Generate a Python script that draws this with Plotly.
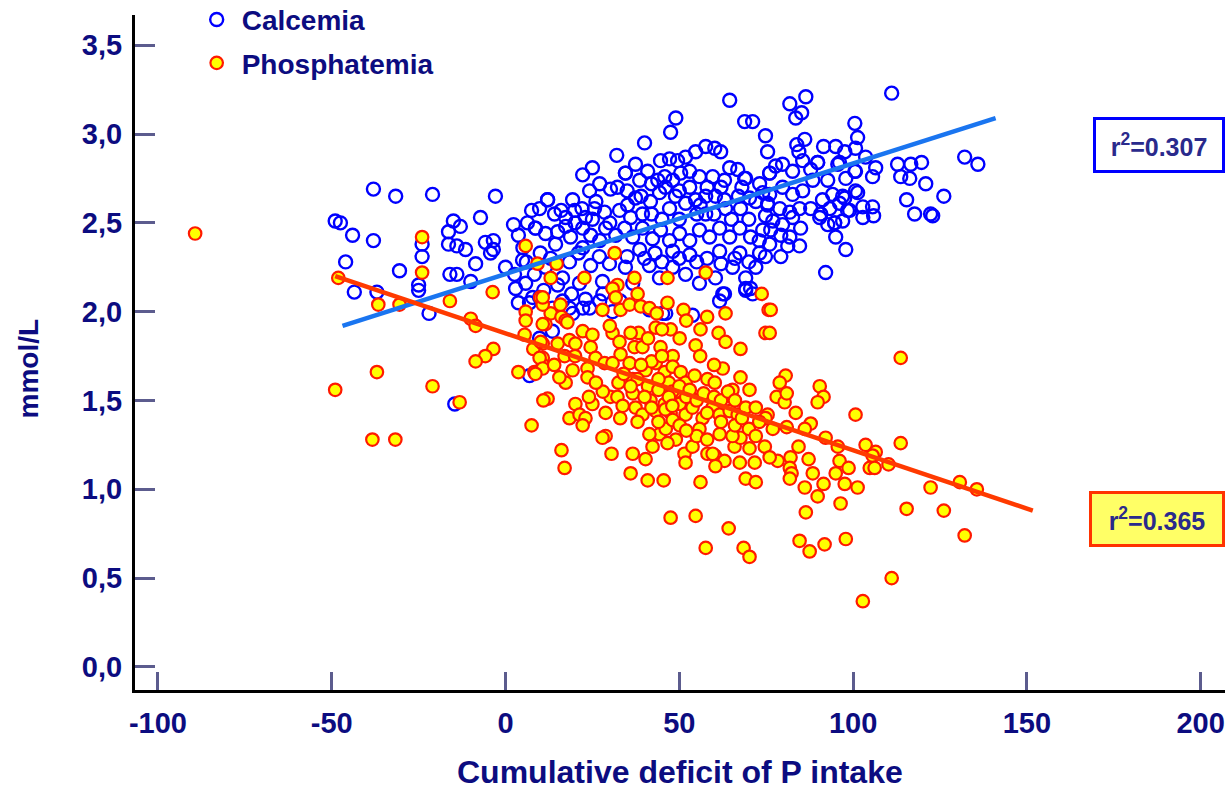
import plotly.graph_objects as go

# ---------------- data ----------------
calc_points = [
    (-49, 2.51), (-47.5, 2.50), (-46, 2.28), (-44, 2.43), (-43.5, 2.11), (-38, 2.69), (-38, 2.40),
    (-37, 2.11), (-31.6, 2.65), (-30.5, 2.23), (-24, 2.38), (-24, 2.31), (-25, 2.15), (-25, 2.12),
    (-21, 2.66), (-22, 1.99), (-16.4, 2.45), (-15, 2.51), (-13, 2.48), (-16.4, 2.38), (-14, 2.37),
    (-11.5, 2.35), (-16, 2.21), (-14, 2.21), (-10, 2.17), (-14.6, 1.48), (-7.2, 2.53), (-8.6, 2.27),
    (-5.8, 2.39), (-3.5, 2.40), (-3.5, 2.35), (-4.3, 2.33), (-2.9, 2.65), (0, 2.25),
    (2.3, 2.49), (3.7, 2.43), (4.9, 2.29), (2.6, 2.21), (7.5, 2.57), (6.3, 2.50), (8.6, 2.47),
    (2.9, 2.13), (5.8, 2.16), (7.8, 2.08), (3.7, 2.05), (6.9, 2.05), (6.9, 1.64), (9.8, 1.85),
    (64.5, 3.19), (49, 3.09), (47.5, 3.01), (68.8, 3.07), (71.1, 3.07), (74.8, 2.99), (40, 2.95),
    (75.4, 2.90), (32, 2.88), (22.2, 2.77), (25, 2.81), (12.1, 2.63), (19.3, 2.63),
    (44.6, 2.85), (47.2, 2.86), (49.5, 2.85), (51.8, 2.87), (54.7, 2.90), (57.6, 2.93), (60.2, 2.92),
    (61.9, 2.90), (37.4, 2.83), (40.9, 2.79), (34.5, 2.78), (64.5, 2.81), (66.8, 2.80), (69.1, 2.75),
    (73.1, 2.72),
    (111.1, 3.23), (81.8, 3.17), (86.4, 3.21), (85.2, 3.12), (83.5, 3.09), (100.5, 3.06), (86.1, 2.97),
    (83.8, 2.94), (84.4, 2.90), (91.5, 2.93), (95, 2.93), (97.6, 2.90), (100.7, 2.92), (101.3, 2.98),
    (103.6, 2.87), (89.8, 2.84), (96.1, 2.84), (100.5, 2.79), (106.5, 2.81), (105.6, 2.76), (112.8, 2.83),
    (116.6, 2.83), (119.7, 2.84), (113.7, 2.76), (116.3, 2.75), (120.9, 2.72), (132.1, 2.87), (135.9, 2.83),
    (115.4, 2.63), (126.1, 2.65), (117.7, 2.55), (122.3, 2.55), (122.9, 2.54), (101.3, 2.67), (102.8, 2.59),
    (105.6, 2.59), (102.8, 2.53), (105.9, 2.54), (97.6, 2.64), (99, 2.57), (97, 2.51), (94.7, 2.50),
    (95, 2.42), (97.9, 2.35), (92.1, 2.22), (84.6, 2.37), (81.2, 2.37), (79.2, 2.31), (74.8, 2.31),
    (30.2, 2.69), (32.2, 2.70), (34.5, 2.78), (43.8, 2.74), (45.8, 2.76), (48.1, 2.74), (50.4, 2.78),
    (53.0, 2.79), (55.8, 2.76), (59.6, 2.76), (63.0, 2.74), (68.8, 2.75), (76.0, 2.78), (24.2, 2.68),
    (27.1, 2.72), (38.6, 2.74),
    (9.8, 2.58), (12.1, 2.63), (14.1, 2.55), (17.3, 2.53), (19.9, 2.57), (23.0, 2.53), (25.6, 2.58),
    (28.5, 2.56), (32.8, 2.57), (35.1, 2.60), (37.4, 2.64), (39.4, 2.55), (41.7, 2.62), (44.3, 2.67),
    (47.2, 2.58), (48.9, 2.65), (51.8, 2.61), (54.7, 2.63), (57.6, 2.65), (60.4, 2.65), (57.6, 2.55),
    (63.3, 2.58), (67.6, 2.58), (70.2, 2.64), (74.0, 2.67), (75.4, 2.60), (74.8, 2.54),
    (8.6, 2.47), (11.5, 2.44), (14.4, 2.38), (17.3, 2.48), (18.7, 2.42), (22.2, 2.47), (24.5, 2.43),
    (27.1, 2.40), (28.8, 2.47), (31.7, 2.43), (34.3, 2.47), (36.6, 2.42), (39.4, 2.47), (42.3, 2.41),
    (44.6, 2.46), (47.2, 2.40), (50.1, 2.44), (53.0, 2.40), (55.8, 2.46), (58.7, 2.42), (61.6, 2.47),
    (64.5, 2.42), (67.4, 2.47), (70.5, 2.42), (74.0, 2.46), (76.0, 2.38), (22.2, 2.36), (38.6, 2.35),
    (48.1, 2.34), (61.6, 2.34), (67.4, 2.33), (73.1, 2.33),
    (8.3, 2.21), (11.5, 2.25), (16.4, 2.19), (18.4, 2.28), (21.3, 2.16), (24.5, 2.26), (27.9, 2.17),
    (29.9, 2.27), (34.5, 2.25), (36.6, 2.16), (41.4, 2.26), (44.3, 2.19), (48.1, 2.25), (51.8, 2.21),
    (55.8, 2.16), (60.4, 2.19), (65.3, 2.25), (69.1, 2.19), (72.0, 2.25), (62.5, 2.10), (69.1, 2.13),
    (71.1, 2.10),
    (9.8, 2.08), (13.5, 2.02), (16.4, 2.06), (19.3, 1.99), (24.2, 2.02), (27.1, 2.06), (41.4, 2.01),
    (46.1, 1.99), (53.8, 1.98), (61.6, 2.06), (63.0, 2.10), (69.1, 2.12), (70.5, 2.13),
    (13.5, 1.89), (18.4, 2.02), (22.2, 2.02), (30.8, 2.00), (45.2, 1.99),
    (76.0, 2.78), (77.7, 2.82), (79.7, 2.83), (82.6, 2.79), (85.5, 2.85), (87.8, 2.80), (89.8, 2.84),
    (92.7, 2.74), (95.6, 2.83), (97.9, 2.75), (100.7, 2.79), (76.0, 2.66), (79.7, 2.70), (82.6, 2.66),
    (85.5, 2.68), (88.4, 2.74), (91.2, 2.63), (94.1, 2.66), (97.0, 2.65), (100.7, 2.68), (75.4, 2.61),
    (78.9, 2.58), (81.8, 2.56), (84.6, 2.58), (87.8, 2.58), (90.7, 2.55), (93.3, 2.58), (96.1, 2.61),
    (98.4, 2.57), (76.9, 2.51), (79.7, 2.49), (82.6, 2.53), (84.9, 2.47), (90.4, 2.53), (92.7, 2.49),
    (94.7, 2.50), (76.3, 2.46), (79.2, 2.43), (81.8, 2.42),
    (5, 2.36), (10, 2.33), (13, 2.30), (15, 2.45), (20, 2.50), (21, 2.33), (25, 2.52), (27, 2.31),
    (6, 2.28), (11, 2.12), (15, 2.15), (19, 2.10), (23, 2.07), (28, 2.10), (33, 2.06), (35, 2.31),
    (40, 2.30), (43, 2.33), (45, 2.28), (50, 2.30), (53, 2.32), (55, 2.28), (58, 2.30), (62, 2.27),
    (66, 2.30), (70, 2.28), (73, 2.40), (45, 2.52), (50, 2.52), (55, 2.55), (60, 2.55), (65, 2.52),
    (70, 2.52), (42, 2.55), (36, 2.53), (30, 2.50), (26, 2.62), (22, 2.58), (16, 2.57), (53, 2.70),
    (58, 2.70), (62, 2.70), (68, 2.70), (72, 2.62), (46, 2.70), (42, 2.72), (35, 2.68), (39, 2.65),
    (50, 2.68), (56, 2.60), (63, 2.63), (67, 2.65),
]

phos_points = [
    (-89.3, 2.44), (-48.1, 2.19), (-49, 1.56), (-36.6, 2.04), (-30.5, 2.04), (-16, 2.06), (-24, 2.42),
    (-24, 2.22), (-10, 1.96), (-8.6, 1.92), (5.8, 2.37), (-3.7, 2.11), (9.2, 2.27), (10, 2.08),
    (5.8, 2.00), (-3.5, 1.79), (-5.8, 1.75), (-8.6, 1.72), (-37, 1.66), (-21, 1.58), (-13.2, 1.49),
    (-38.3, 1.28), (-31.7, 1.28), (7.5, 1.36), (5.8, 1.95), (5.5, 1.87), (3.7, 1.66), (8.3, 1.66),
    (8.0, 1.79),
    (12.1, 1.51), (16.1, 1.22), (17, 1.12), (28.8, 1.30), (30.5, 1.20), (36.6, 1.20), (36, 1.09),
    (40.9, 1.05), (45.5, 1.05), (56.1, 1.04), (47.5, 0.84), (54.7, 0.85), (57.6, 0.67), (64.2, 0.78),
    (68.5, 0.67), (70.2, 0.62), (56.1, 1.90), (61.3, 1.88), (63.3, 1.83), (67.6, 1.79), (54.7, 1.81),
    (74.8, 1.88), (75.7, 2.01), (63.3, 1.99), (75.4, 1.42), (67.6, 1.63), (70.2, 1.56), (51.2, 2.01),
    (46.6, 2.05), (27.9, 2.01), (33.1, 2.01), (13, 1.99), (16.1, 1.97), (17.3, 1.95), (22.2, 1.89),
    (25, 1.87),
    (76.3, 2.01), (76.0, 1.88), (113.7, 1.74), (80.6, 1.64), (78.9, 1.60), (78.0, 1.52), (80.3, 1.49),
    (80.9, 1.54), (90.4, 1.58), (91.5, 1.52), (89.8, 1.49), (83.5, 1.43), (100.7, 1.42), (87.8, 1.37),
    (86.1, 1.34), (80.9, 1.35), (76.9, 1.34), (92.1, 1.29), (95.6, 1.24), (103.6, 1.25), (106.5, 1.21),
    (113.7, 1.26), (84.3, 1.24), (82.0, 1.18), (87.2, 1.17), (78.3, 1.16), (81.8, 1.12), (82.3, 1.09),
    (81.8, 1.06), (88.4, 1.09), (96.1, 1.16), (98.7, 1.12), (95.0, 1.09), (97.6, 1.03), (101.3, 1.01),
    (105.6, 1.19), (104.8, 1.12), (106.2, 1.12), (110.2, 1.14), (86.1, 1.01), (89.8, 0.96), (91.5, 1.03),
    (96.4, 0.92), (86.4, 0.87), (122.3, 1.01), (130.7, 1.04), (135.6, 1.00), (115.4, 0.89), (126.1, 0.88),
    (132.1, 0.74), (84.6, 0.71), (87.5, 0.65), (91.8, 0.69), (97.9, 0.72), (111.1, 0.50), (102.8, 0.37),
    (10.7, 2.04), (15.8, 2.04), (35.7, 2.04), (38.9, 2.03), (41.4, 2.02), (43.5, 1.99),
    (11.5, 1.93), (17.8, 1.94), (30.8, 1.88), (32.8, 1.83), (38.3, 1.88), (43.2, 1.91), (47.5, 1.90),
    (50.1, 1.85), (10.7, 1.82), (15.0, 1.82), (18.4, 1.84), (20.1, 1.82), (24.5, 1.80), (33.1, 1.76),
    (37.1, 1.80), (39.4, 1.80), (44.6, 1.80), (48.1, 1.75),
    (10.7, 1.74), (17.0, 1.75), (19.3, 1.67), (17.3, 1.60), (23.6, 1.68), (25.9, 1.74), (23.6, 1.63),
    (28.5, 1.71), (30.8, 1.71), (32.5, 1.60), (35.7, 1.71), (36.6, 1.62), (40.3, 1.67), (43.2, 1.71),
    (45.8, 1.66), (48.1, 1.69), (50.4, 1.66), (51.8, 1.60), (54.4, 1.64), (58.1, 1.62), (62.5, 1.68),
    (60.2, 1.60), (65.3, 1.56), (15.5, 1.63),
    (20.1, 1.48), (18.4, 1.40), (21.3, 1.42), (23.0, 1.40), (25.0, 1.48), (28.8, 1.43), (30.2, 1.52),
    (32.2, 1.52), (33.7, 1.47), (36.6, 1.54), (37.4, 1.46), (39.4, 1.42), (41.7, 1.50), (43.2, 1.44),
    (45.8, 1.48), (47.5, 1.43), (50.1, 1.48), (51.8, 1.42), (53.8, 1.46), (56.7, 1.40), (59.6, 1.46),
    (61.6, 1.42), (64.5, 1.44), (66.8, 1.42), (69.1, 1.46), (72.0, 1.46), (74.8, 1.40), (10.7, 1.70),
    (22.2, 1.36),
    (27.9, 1.29), (40.3, 1.17), (42.3, 1.24), (44.3, 1.31), (46.1, 1.34), (49.0, 1.28), (51.5, 1.20),
    (53.8, 1.24), (58.1, 1.20), (60.2, 1.19), (63.0, 1.16), (65.9, 1.24), (67.6, 1.29), (70.2, 1.23),
    (71.7, 1.15), (74.6, 1.24), (76.0, 1.18), (41.4, 1.31), (46.6, 1.26), (55.8, 1.34), (61.6, 1.31),
    (65.3, 1.30), (48.1, 1.39), (50.1, 1.36),
    (51.8, 1.15), (60.4, 1.13), (67.4, 1.15), (69.1, 1.06), (72.0, 1.04), (59.6, 1.20),
    (10.7, 1.93), (10.1, 1.83), (9.8, 1.74), (10.7, 1.68), (8.6, 1.65), (10.9, 1.50),
    (31.4, 2.33), (14.7, 2.27), (22.7, 2.19), (13, 2.19), (37.1, 2.19), (46.6, 2.19), (57.6, 2.22),
    (32.2, 2.15), (30.8, 2.13), (10.7, 2.08), (38, 2.10), (31.7, 2.08), (73.7, 2.10),
    (38, 1.62), (41, 1.58), (44, 1.56), (47, 1.60), (49, 1.55), (52, 1.52), (55, 1.50), (42, 1.72),
    (45, 1.75), (48, 1.55), (50, 1.58), (44, 1.62), (39, 1.70), (47, 1.52), (53, 1.56), (57, 1.54),
    (60, 1.52), (62, 1.50), (64, 1.55), (36, 1.58), (34, 1.65), (40, 1.52), (46, 1.45), (58, 1.43),
    (62, 1.38), (66, 1.36), (70, 1.34), (72, 1.30), (55, 1.30), (52, 1.33), (44, 1.38), (38, 1.38),
    (33, 1.40), (28, 1.55), (26, 1.60), (20, 1.75), (14, 1.70), (24, 1.52), (56, 1.75), (60, 1.70),
    (66, 1.50), (68, 1.40), (73, 1.38), (58, 1.28), (48, 1.47), (42, 1.46), (45, 1.90), (41, 1.85),
    (36, 1.88), (30, 1.92), (52, 1.95), (58, 1.97),
]

calc_x = [p[0] for p in calc_points]
calc_y = [p[1] for p in calc_points]
phos_x = [p[0] for p in phos_points]
phos_y = [p[1] for p in phos_points]

# regression lines (end points)
calc_fit_x = [-46.9, 141.0]
calc_fit_y = [1.92, 3.09]
phos_fit_x = [-49.0, 151.7]
phos_fit_y = [2.20, 0.88]

x_tick_vals = [-100, -50, 0, 50, 100, 150, 200]
x_tick_text = ["-100", "-50", "0", "50", "100", "150", "200"]
y_tick_vals = [0.0, 0.5, 1.0, 1.5, 2.0, 2.5, 3.0, 3.5]
y_tick_text = ["0,0", "0,5", "1,0", "1,5", "2,0", "2,5", "3,0", "3,5"]

series_names = ["Calcemia", "Phosphatemia"]
r2_labels = ["r<sup>2</sup>=0.307", "r<sup>2</sup>=0.365"]

# ---------------- figure ----------------
NAVY = "#0c0c80"
FONT = "Liberation Sans"

fig = go.Figure()
fig.add_trace(go.Scatter(
    x=calc_x, y=calc_y, mode="markers", name=series_names[0], legendgroup="a",
    marker=dict(symbol="circle-open", size=13, color="#0000ff", line=dict(width=2.4, color="#0000ff")),
))
fig.add_trace(go.Scatter(
    x=phos_x, y=phos_y, mode="markers", name=series_names[1], legendgroup="b",
    marker=dict(symbol="circle", size=12.5, color="#ffff00", line=dict(width=2.2, color="#ff1a00")),
))
fig.add_trace(go.Scatter(
    x=calc_fit_x, y=calc_fit_y, mode="lines", showlegend=False,
    line=dict(color="#1a75f0", width=4.5),
))
fig.add_trace(go.Scatter(
    x=phos_fit_x, y=phos_fit_y, mode="lines", showlegend=False,
    line=dict(color="#ff3a00", width=4.5),
))

fig.update_layout(
    width=1232, height=791, autosize=False,
    margin=dict(l=135, r=7, t=15, b=101, autoexpand=False),
    paper_bgcolor="white", plot_bgcolor="white",
    font=dict(family=FONT, color=NAVY),
    legend=dict(
        x=0.052, y=1.030, xanchor="left", yanchor="top",
        font=dict(family=FONT, size=28, color=NAVY, weight="bold"),
        bgcolor="rgba(0,0,0,0)", tracegroupgap=4, traceorder="grouped",
        itemsizing="trace", itemwidth=40,
    ),
    xaxis=dict(
        range=[-106.6, 207], showgrid=False, zeroline=False,
        showline=True, linecolor="black", linewidth=3,
        tickmode="array", tickvals=x_tick_vals, ticktext=x_tick_text,
        ticks="inside", ticklen=18, tickwidth=3, tickcolor="#5c5c8e",
        tickfont=dict(family=FONT, size=29, color=NAVY, weight="bold"),
        ticklabelstandoff=5,
    ),
    yaxis=dict(
        range=[-0.13, 3.67], showgrid=False, zeroline=False,
        showline=True, linecolor="black", linewidth=3,
        tickmode="array", tickvals=y_tick_vals, ticktext=y_tick_text,
        ticks="inside", ticklen=20, tickwidth=3, tickcolor="#5c5c8e",
        tickfont=dict(family=FONT, size=29, color=NAVY, weight="bold"),
        ticklabelstandoff=4,
    ),
)

# axis titles
fig.add_annotation(
    text="Cumulative deficit of P intake", xref="paper", yref="paper",
    x=0.5, y=-0.121, xanchor="center", yanchor="middle", showarrow=False,
    font=dict(family=FONT, size=32, color=NAVY, weight="bold"),
)
fig.add_annotation(
    text="mmol/L", xref="paper", yref="paper", textangle=-90,
    x=-0.0975, y=0.476, xanchor="center", yanchor="middle", showarrow=False,
    font=dict(family=FONT, size=28, color=NAVY, weight="bold"),
)

# r^2 boxes
fig.add_annotation(
    text=r2_labels[0], xref="paper", yref="paper", x=1.0, y=0.807,
    xanchor="right", yanchor="middle", showarrow=False,
    font=dict(family=FONT, size=25, color="#2a2a8c", weight="bold"),
    bgcolor="white", bordercolor="#0000ff", borderwidth=3, borderpad=4,
    width=118, height=42,
)
fig.add_annotation(
    text=r2_labels[1], xref="paper", yref="paper", x=1.0, y=0.253,
    xanchor="right", yanchor="middle", showarrow=False,
    font=dict(family=FONT, size=25, color="#2a2a8c", weight="bold"),
    bgcolor="#ffff66", bordercolor="#ff3300", borderwidth=3, borderpad=4,
    width=122, height=42,
)

fig.write_html("out.html", config={"displayModeBar": False},
               post_script="document.body.style.margin='0';")
